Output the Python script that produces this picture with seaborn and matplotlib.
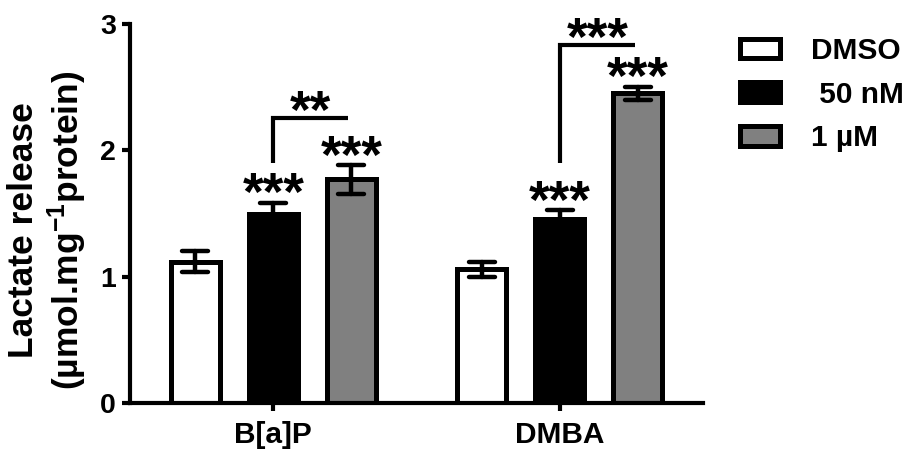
import matplotlib
matplotlib.use("Agg")
import matplotlib.pyplot as plt
from matplotlib.markers import MarkerStyle
import numpy as np
import pandas as pd
import seaborn as sns

# ---- data -------------------------------------------------------------
compounds = ["B[a]P", "DMBA"]
treatments = ["DMSO", "50 nM", "1 µM"]
legend_labels = ["DMSO", " 50 nM", "1 µM"]

lactate_bap = [1.12, 1.50, 1.77]
sem_bap = [0.085, 0.085, 0.115]
lactate_dmba = [1.06, 1.46, 2.45]
sem_dmba = [0.06, 0.066, 0.055]

y_ticks = [0, 1, 2, 3]

# significance vs DMSO (per bar) and between doses (brackets)
stars_bap = ["", "***", "***"]
stars_dmba = ["", "***", "***"]
bracket_labels = ["**", "***"]

# ---- styling ----------------------------------------------------------
sns.set_style("ticks")
plt.rcParams["font.family"] = ["Liberation Sans", "DejaVu Sans"]
plt.rcParams["font.weight"] = "bold"
plt.rcParams["mathtext.fontset"] = "custom"
plt.rcParams["mathtext.rm"] = "Liberation Sans:bold"
plt.rcParams["mathtext.bf"] = "Liberation Sans:bold"
plt.rcParams["mathtext.it"] = "Liberation Sans:bold:italic"
for key in ["text.color", "axes.labelcolor", "xtick.color", "ytick.color",
            "axes.edgecolor"]:
    plt.rcParams[key] = "black"

colors = ["#ffffff", "#000000", "#808080"]
LW = 3.6

df = pd.DataFrame({
    "compound": np.repeat(compounds, len(treatments)),
    "treatment": treatments * len(compounds),
    "lactate": lactate_bap + lactate_dmba,
    "sem": sem_bap + sem_dmba,
})

fig = plt.figure(figsize=(9.07, 4.49), dpi=100)
ax = fig.add_axes([130 / 907, 46 / 449, 573 / 907, 379 / 449])

sns.barplot(data=df, x="compound", y="lactate", hue="treatment",
            hue_order=treatments, order=compounds, palette=colors,
            edgecolor="black", linewidth=LW, width=0.817, gap=0.37,
            errorbar=None, legend=False, ax=ax)
bar_containers = list(ax.containers)

# error bars (mean ± SEM) on top of each bar
cap = MarkerStyle("_", capstyle="round")
centers, tops = [], []
for h, cont in enumerate(bar_containers):
    sub = df[df["treatment"] == treatments[h]].set_index("compound").loc[compounds]
    xs = [p.get_x() + p.get_width() / 2 for p in cont.patches]
    centers.append(xs)
    tops.append(list(sub["lactate"] + sub["sem"]))
    _, caps, bars = ax.errorbar(xs, sub["lactate"], yerr=sub["sem"], fmt="none",
                                ecolor="black", elinewidth=3.2, capsize=9.5,
                                capthick=3.2, zorder=5)
    for c in caps:
        c.set_marker(cap)
    for b in bars:
        b.set_capstyle("round")

# asterisks sit high in the em box, so the text centre is set below the glyph
star_kw = dict(ha="center", va="center", fontsize=38, fontweight="bold", zorder=6)
STAR_DROP = 0.09

# stars above individual bars
for g, stars in enumerate([stars_bap, stars_dmba]):
    for h, s in enumerate(stars):
        if s:
            ax.text(centers[h][g], tops[h][g] + 0.14 - STAR_DROP, s, **star_kw)

# brackets between 50 nM and 1 µM
bracket_tops = [2.256, 2.835]
for g, lab in enumerate(bracket_labels):
    x0 = centers[1][g]
    x1 = centers[2][g] - 0.01
    yb = 1.90
    ax.plot([x0, x0, x1], [yb, bracket_tops[g], bracket_tops[g]], color="black",
            lw=3.0, solid_capstyle="butt", solid_joinstyle="miter", zorder=6,
            clip_on=False)
    ax.text((x0 + x1) / 2, bracket_tops[g] + 0.12 - STAR_DROP, lab, **star_kw)

# ---- axes -------------------------------------------------------------
ax.set_xlim(-0.5, 1.5)
ax.set_ylim(0, 3)
ax.set_yticks(y_ticks)
ax.set_yticklabels([str(v) for v in y_ticks])
ax.set_xlabel("")
ax.set_ylabel("")
for side in ["top", "right"]:
    ax.spines[side].set_visible(False)
for side in ["left", "bottom"]:
    ax.spines[side].set_linewidth(3.0)
ax.tick_params(axis="both", width=3.0, length=6, color="black")
ax.tick_params(axis="y", pad=4, labelsize=20.5)
ax.tick_params(axis="x", pad=7, labelsize=21.5)
for t in ax.get_xticklabels() + ax.get_yticklabels():
    t.set_fontweight("bold")

fig.text(48 / 907, 0.487, "Lactate release\n(µmol.mg$^{-1}$protein)",
         rotation=90, ha="center", va="center", fontsize=25.5,
         fontweight="bold", linespacing=1.15, multialignment="center")

leg = fig.legend(bar_containers, legend_labels, loc="upper left",
                 bbox_to_anchor=(740 / 907, 0.918), frameon=False,
                 fontsize=21.5, handlelength=1.33, handleheight=0.63,
                 handletextpad=1.05, labelspacing=0.53, borderpad=0,
                 borderaxespad=0)
for t in leg.get_texts():
    t.set_fontweight("bold")

fig.savefig("out.png", dpi=100)
